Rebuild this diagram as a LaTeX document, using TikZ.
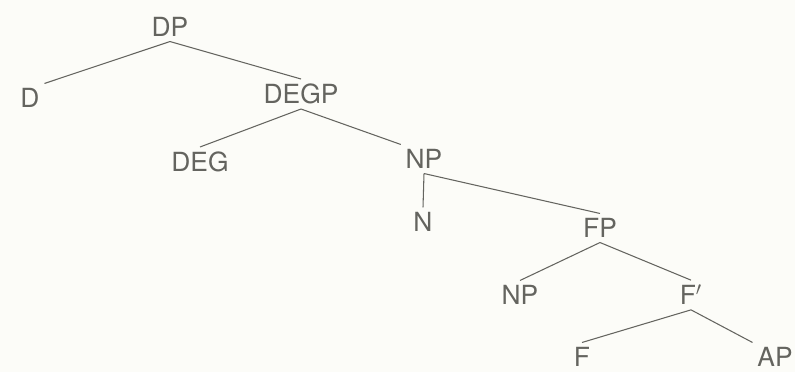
\documentclass[tikz,border=0pt]{standalone}
\usepackage{fontspec}
\setmainfont{TeX Gyre Heros}
\usetikzlibrary{positioning}
\definecolor{inkgray}{RGB}{100,100,95}
\definecolor{paper}{RGB}{252,252,248}

\begin{document}
\begin{tikzpicture}[x = 0.02cm, y = -0.02cm, % one unit is one pixel
                semithick, % line style
                draw = inkgray
            ]

            \tikzstyle{every node}=[text = inkgray, inner sep = 2.5pt,
            font = \fontsize{15}{17}\selectfont]
            \tikzstyle{branch}=[draw = inkgray, line width = 0.6pt]

            \fill[paper] (0,0) rectangle (795,372);
            \useasboundingbox (0,0) rectangle (795,372);

            \node (dp) at (170,27) {DP}; \node (d) at (30,98) {D};
            \node (degp) at (301,94) {DEGP}; \node (deg) at (200,162) {DEG};
            \node (np) at (424,159) {NP}; \node (n) at (423,222) {N};
            \node (fp) at (600,228) {FP}; \node (npb) at (520,295) {NP};
            \node (fbar) at (691,295) {F$'$}; \node (f) at (582,357) {F};
            \node (ap) at (775,357) {AP};


            \path[branch] (dp.south) edge (d.north east); \path[branch]
            (dp.south) edge (degp.north); \path[branch] (degp.south) edge
            (deg.north); \path[branch] (degp.south) edge (np.north west);
            \path[branch] (np.south) edge (n.north); \path[branch] (np.south)
            edge (fp.north); \path[branch] (fp.south) edge (npb.north);
            \path[branch] (fp.south) edge (fbar.north); \path[branch]
            (fbar.south) edge (f.north); \path[branch] (fbar.south) edge
            (ap.north west); \end{tikzpicture}
\end{document}
